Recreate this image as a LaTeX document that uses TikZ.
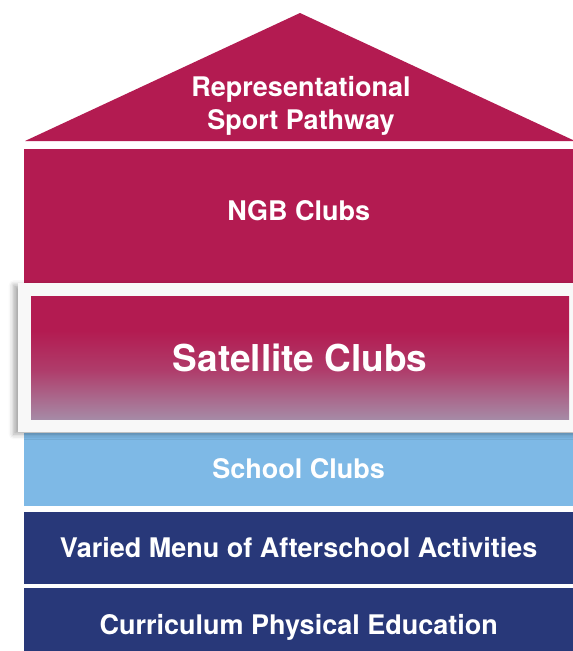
\documentclass[tikz,border=0pt]{standalone}
\usepackage{fontspec}
\setmainfont{TeX Gyre Heros}
\usetikzlibrary{positioning, shadows.blur, backgrounds}
\definecolor{crimson}{HTML}{B31B51}
\definecolor{skyblue}{HTML}{7EB9E6}
\definecolor{navy}{HTML}{283879}
\definecolor{mauve}{HTML}{A68AA6}
\definecolor{panelgray}{HTML}{F8F8F8}
\pgfdeclareverticalshading{satfade}{100bp}{color(0bp)=(mauve); color(25bp)=(mauve); color(45bp)=(crimson!70!mauve); color(61bp)=(crimson); color(100bp)=(crimson)}
\tikzstyle{tier} = [rectangle, minimum width=549pt, inner sep=0pt, text=white, font=\bfseries\fontsize{27}{33}\selectfont]
\tikzstyle{roofline} = [text=white, align=center, font=\bfseries\fontsize{27}{33}\selectfont]
\tikzstyle{panel} = [rectangle, minimum width=560pt, minimum height=149pt, inner sep=0pt, fill=panelgray, blur shadow={shadow xshift=-4pt, shadow yshift=-2pt, shadow blur radius=5pt, shadow opacity=35}]
\tikzstyle{satellite} = [rectangle, minimum width=538pt, minimum height=123pt, inner sep=0pt, shading=satfade, text=white, font=\bfseries\fontsize{37}{40}\selectfont]

\begin{document}
\begin{tikzpicture}[x=1pt, y=1pt]
\useasboundingbox (0,0) rectangle (573,-651);
\fill [crimson] (25,-141) -- (300,-13) -- (575,-141) -- cycle;
\node (roof) [roofline] at (301,-106) {Representational\\Sport Pathway};
\node (ngb) [tier, fill=crimson, minimum height=134pt, text depth=12pt, anchor=north west] at (24,-149) {NGB Clubs};
\node (panel) [panel, anchor=north west] at (17.5,-283) {};
\node (sat) [satellite, below right=13pt and 13.5pt of panel.north west, anchor=north west] {Satellite Clubs};
\begin{scope}[on background layer]
\node (school) [tier, fill=skyblue, minimum height=73pt, anchor=north west] at (ngb.south west |- panel.south) {School Clubs};
\node (afterschool) [tier, fill=navy, minimum height=72pt, below=6pt of school] {Varied Menu of Afterschool Activities};
\node (curriculum) [tier, fill=navy, minimum height=77pt, below=4pt of afterschool] {Curriculum Physical Education};
\end{scope}
\end{tikzpicture}
\end{document}
